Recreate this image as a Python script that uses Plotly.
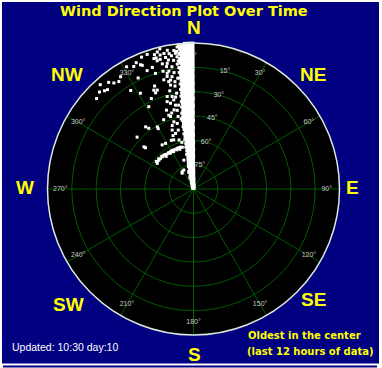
import plotly.graph_objects as go

# ---------------- data ----------------
# Dense band of readings just west of north (hours since oldest reading = radius, direction in degrees)
band_hours = (
    [0.10]*2 + [0.25]*3 + [0.40]*2 + [0.55]*3 + [0.70]*2 + [0.85]*3 + [1.00]*3 + [1.15]*3 +
    [1.30]*2 + [1.45]*4 + [1.60]*2 + [1.75]*3 + [1.90]*3 + [2.05]*3 + [2.20]*3 + [2.35]*3 +
    [2.50]*3 + [2.65]*3 + [2.80]*3 +
    [2.95]*4 + [3.10]*3 + [3.25]*4 + [3.40]*3 + [3.55]*4 + [3.70]*3 + [3.85]*4 + [4.00]*3 +
    [4.15]*4 + [4.30]*3 + [4.45]*4 + [4.60]*3 + [4.75]*4 + [4.90]*3 + [5.05]*4 + [5.20]*3 +
    [5.35]*4 + [5.50]*3 + [5.65]*4 + [5.80]*3 + [5.95]*4 +
    [6.10]*4 + [6.25]*4 + [6.40]*3 + [6.55]*4 + [6.70]*3 + [6.85]*4 + [7.00]*3 + [7.15]*4 +
    [7.30]*3 + [7.45]*4 + [7.60]*3 + [7.75]*4 + [7.90]*3 + [8.05]*4 + [8.20]*4 + [8.35]*4 +
    [8.50]*3 + [8.65]*4 + [8.80]*3 + [8.95]*4 + [9.10]*3 + [9.25]*4 + [9.40]*3 + [9.55]*4 +
    [9.70]*3 + [9.85]*4 + [10.00]*4 + [10.15]*4 + [10.30]*3 + [10.45]*4 + [10.60]*4 + [10.75]*4 +
    [10.90]*3 + [11.05]*4 + [11.20]*4 + [11.35]*4 + [11.50]*3 + [11.65]*4 + [11.80]*4 + [11.95]*3
)
band_dir = [
    358.5, 350.0,  359.3, 354.0, 345.0,  357.0, 349.5,  359.0, 353.5, 346.5,  357.5, 351.0,
    359.4, 355.0, 348.0,  357.0, 352.0, 345.5,  359.0, 354.5, 349.0,
    357.5, 352.5,  359.3, 355.5, 350.0, 346.0,  357.0, 352.5,  359.0, 355.0, 350.5,
    357.5, 353.0, 348.5,  359.3, 355.5, 351.5,  357.0, 353.5, 350.0,  359.0, 355.5, 352.0,
    357.5, 354.0, 350.5,  359.4, 356.0, 352.5,  357.5, 354.5, 351.5,
    359.2, 356.8, 354.3, 351.8,  358.0, 355.5, 353.0,  359.5, 357.0, 354.5, 352.0,
    358.2, 355.8, 353.2,  359.3, 356.9, 354.4, 351.9,  358.0, 355.5, 353.0,
    359.5, 357.2, 354.8, 352.3,  358.3, 355.9, 353.4,  359.2, 356.8, 354.4, 352.0,
    358.0, 355.6, 353.2,  359.5, 357.1, 354.7, 352.2,  358.2, 355.8, 353.4,
    359.3, 357.0, 354.6, 352.2,  358.1, 355.7, 353.3,  359.5, 357.2, 354.8, 352.4,
    358.3, 356.0, 353.6,  359.2, 356.9, 354.6, 352.3,  358.0, 355.7, 353.4,
    359.5, 357.3, 355.0, 352.7,  358.2, 356.0, 353.8,  359.3, 357.1, 354.9, 352.6,
    358.4, 356.3, 354.2, 352.5,  359.5, 357.4, 355.3, 353.2,  358.5, 356.4, 354.3,
    359.4, 357.3, 355.2, 353.1,  358.4, 356.3, 354.2,  359.6, 357.5, 355.4, 353.3,
    358.5, 356.4, 354.3,  359.4, 357.4, 355.4, 353.4,  358.4, 356.4, 354.4,
    359.6, 357.6, 355.6, 353.6,  358.6, 356.6, 354.6,  359.4, 357.4, 355.4, 353.5,
    358.4, 356.5, 354.5,  359.6, 357.8, 356.0, 354.2,  358.7, 356.9, 355.1, 353.6,
    359.5, 357.7, 355.9, 354.1,  358.6, 356.8, 355.0,  359.6, 357.8, 356.0, 354.2,
    358.7, 356.9, 355.1,  359.5, 357.7, 355.9, 354.1,  358.6, 356.8, 355.0,
    359.6, 357.8, 356.0, 354.2,  358.7, 356.9, 355.1,  359.5, 357.7, 355.9, 354.1,
    358.6, 356.8, 355.0,  359.6, 357.8, 356.0, 354.3,  358.8, 357.2, 355.6, 354.0,
    359.6, 358.0, 356.4, 354.8,  358.8, 357.2, 355.6,  359.6, 358.0, 356.4, 354.8,
    358.8, 357.2, 355.6, 354.0,  359.6, 358.0, 356.4, 354.8,  358.8, 357.2, 355.6,
    359.6, 358.1, 356.6, 355.1,  358.9, 357.4, 355.9, 354.4,  359.6, 358.1, 356.6, 355.1,
    358.9, 357.4, 355.9,  359.6, 358.1, 356.6, 355.1,  358.9, 357.4, 355.9, 354.4,
    359.6, 358.1, 356.6,
]

# Ragged western edge of the band
edge_hours = [
    11.90, 11.75, 11.55, 11.40, 11.15, 10.95, 10.80, 10.60, 10.40, 10.05, 9.90, 9.65,
    9.45, 9.20, 9.00, 8.70, 8.45, 8.25, 7.95, 7.70, 7.50, 7.25, 7.05, 6.80,
    6.50, 6.30, 6.00, 5.70, 5.45, 5.20, 4.95, 4.60, 4.35, 4.10, 3.80, 3.50, 3.20, 2.90,
]
edge_dir = [
    354.0, 353.4, 354.2, 353.0, 353.8, 352.9, 354.0, 353.2, 353.9, 353.1, 353.8, 353.0,
    353.6, 352.9, 353.5, 352.8, 353.4, 352.6, 353.0, 352.3, 352.9, 352.1, 352.6, 351.8,
    352.2, 351.2, 351.5, 350.8, 351.3, 350.5, 350.9, 350.2, 350.8, 349.9, 350.4, 349.6, 350.0, 348.8,
]

# Scattered readings away from the main band
scatter_hours = [
    11.70, 11.20, 10.95, 11.60, 11.30, 11.10, 11.50, 11.25, 10.35, 10.70, 10.30, 9.90,
    11.40, 11.20, 11.45, 11.10, 10.90, 10.75, 11.50, 10.80, 11.10, 10.90, 9.05, 8.66,
    9.00, 10.45, 9.50, 9.05, 8.75, 7.90, 7.50, 6.85, 6.40, 9.20, 11.20, 11.40,
    11.05, 10.55, 11.00, 10.55, 9.75, 9.15, 8.75, 8.50, 7.80, 7.50, 7.05, 6.60,
    6.20, 6.25, 5.90, 6.20, 6.45, 6.30, 5.35, 5.15, 4.80, 4.45, 4.40, 4.35,
    3.65, 3.72, 3.70, 3.70, 3.68, 3.70, 3.65, 3.60, 3.62, 3.60, 3.62, 3.60,
    3.58, 3.60, 3.60, 3.60, 3.55,
    3.80, 3.78, 3.75, 3.50, 3.50, 3.48, 3.50, 3.45,
    1.75, 1.60, 5.20, 5.75, 4.40, 5.55, 5.75, 2.50, 1.70, 11.00, 11.20, 10.90,
    11.85, 11.65, 11.50, 11.35, 11.00, 10.80, 10.60, 10.20, 10.00, 9.70, 9.40, 9.30,
    8.95, 8.60, 8.30, 8.00, 7.70, 7.30, 7.00, 6.70, 6.50, 6.10, 5.85, 5.50,
    5.00, 4.70, 4.20, 3.95, 11.65, 10.20, 9.60, 8.20, 7.70, 10.00,
]
scatter_dir = [
    341.0, 344.1, 344.2, 349.3, 349.8, 350.6, 351.9, 352.4, 352.6, 351.2, 347.6, 348.2,
    335.6, 334.0, 331.3, 336.9, 323.1, 325.2, 318.2, 319.1, 315.9, 313.0, 339.3, 339.9,
    331.0, 338.6, 346.8, 347.0, 347.5, 344.1, 347.5, 341.1, 341.5, 351.9, 343.1, 347.7,
    348.0, 348.2, 337.5, 341.3, 347.2, 348.1, 338.1, 338.5, 347.0, 343.2, 347.9, 348.3,
    336.7, 342.4, 329.8, 323.6, 322.4, 312.6, 310.4, 340.1, 342.1, 324.6, 328.5, 338.1,
    305.3, 307.5, 310.0, 312.9, 315.8, 318.9, 321.0, 323.1, 325.8, 328.3, 330.8, 333.2,
    335.8, 338.2, 340.5, 342.7, 345.0,
    306.5, 311.0, 316.0, 320.0, 327.0, 332.0, 337.0, 341.0,
    333.0, 324.3, 310.7, 329.7, 335.5, 346.1, 343.7, 341.5, 326.8, 327.0, 321.5, 317.8,
    346.5, 345.2, 343.8, 346.0, 345.6, 349.0, 346.0, 350.0, 345.5, 350.5, 349.2, 344.8,
    350.2, 349.8, 346.4, 350.0, 349.0, 345.0, 350.0, 346.2, 344.0, 348.0, 350.0, 341.5,
    345.5, 339.0, 343.5, 346.0, 338.5, 333.5, 327.5, 335.0, 331.5, 341.8,
]

# Axis labels
angle_ticks = [0, 30, 60, 90, 120, 150, 180, 210, 240, 270, 300, 330]
angle_labels = ["0°", "30°", "60°", "90°", "120°", "150°", "180°", "210°", "240°", "270°", "300°", "330°"]
ring_hours = [2, 4, 6, 8, 10]
ring_labels = ["75°", "60°", "45°", "30°", "15°"]
compass_labels = ["N", "NE", "E", "SE", "S", "SW", "W", "NW"]

assert len(band_hours) == len(band_dir)
assert len(edge_hours) == len(edge_dir)
assert len(scatter_hours) == len(scatter_dir)

# ---------------- figure ----------------
W, H = 382, 368
CX, CY, R = 193.5, 189.0, 146.0   # pixel centre / radius of the dial

def px(x):
    return x / W

def py(y):
    return 1 - y / H

GRID = "#005a00"
LABEL_GREY = "#c8c8c8"
YELLOW = "#ffff00"
NAVY = "#000080"

fig = go.Figure()

fig.add_trace(go.Scatterpolar(
    r=ring_hours, theta=[15] * len(ring_hours), mode="text", text=ring_labels,
    textfont=dict(family="Liberation Sans, Arial", size=7, color=LABEL_GREY),
    hoverinfo="skip", cliponaxis=False))
fig.add_trace(go.Scatterpolar(
    r=[10.95] * len(angle_ticks), theta=angle_ticks, mode="text", text=angle_labels,
    textfont=dict(family="Liberation Sans, Arial", size=7, color=LABEL_GREY),
    hoverinfo="skip", cliponaxis=False))
fig.add_trace(go.Scatterpolar(
    r=band_hours, theta=band_dir, mode="markers",
    marker=dict(symbol="square", size=4, color="white", line=dict(width=0)),
    hoverinfo="skip"))
fig.add_trace(go.Scatterpolar(
    r=edge_hours, theta=edge_dir, mode="markers",
    marker=dict(symbol="square", size=3, color="white", line=dict(width=0)),
    hoverinfo="skip"))
fig.add_trace(go.Scatterpolar(
    r=scatter_hours, theta=scatter_dir, mode="markers",
    marker=dict(symbol="square", size=3, color="white", line=dict(width=0)),
    hoverinfo="skip"))

compass_pos = {
    "N": (193.5, 27.5), "NE": (313, 74.5), "E": (352, 187.5), "SE": (313, 299.5),
    "S": (194, 354.5), "SW": (68, 304.5), "W": (24.5, 187.5), "NW": (67, 74),
}
annotations = []
for lab in compass_labels:
    x, y = compass_pos[lab]
    annotations.append(dict(
        text=lab, x=px(x), y=py(y), xref="paper", yref="paper",
        xanchor="center", yanchor="middle", showarrow=False, borderpad=0,
        font=dict(family="Liberation Sans, Arial", size=19, color=YELLOW, weight="bold")))

annotations += [
    dict(text="Wind Direction Plot Over Time", x=px(184), y=py(11), xref="paper", yref="paper",
         xanchor="center", yanchor="middle", showarrow=False, borderpad=0,
         font=dict(family="DejaVu Sans", size=14.5, color=YELLOW, weight="bold")),
    dict(text="Updated: 10:30 day:10", x=px(9.5), y=py(347), xref="paper", yref="paper",
         xanchor="left", yanchor="middle", showarrow=False,
         font=dict(family="Liberation Sans, Arial", size=10.5, color="white")),
    dict(text="Oldest in the center", x=px(246), y=py(335), xref="paper", yref="paper",
         xanchor="left", yanchor="middle", showarrow=False,
         font=dict(family="DejaVu Sans", size=10, color=YELLOW, weight="bold")),
    dict(text="(last 12 hours of data)", x=px(245), y=py(351.5), xref="paper", yref="paper",
         xanchor="left", yanchor="middle", showarrow=False,
         font=dict(family="DejaVu Sans", size=10, color=YELLOW, weight="bold")),
]

shapes = [
    dict(type="rect", xref="paper", yref="paper", x0=px(2), x1=px(379), y0=py(363.5), y1=py(2),
         fillcolor=NAVY, line=dict(width=0), layer="below"),
    dict(type="rect", xref="paper", yref="paper", x0=px(3), x1=px(377), y0=py(367.5), y1=py(365.5),
         fillcolor=NAVY, line=dict(width=0), layer="below"),
]

fig.update_layout(
    width=W, height=H, margin=dict(l=0, r=0, t=0, b=0),
    paper_bgcolor="white", showlegend=False,
    shapes=shapes, annotations=annotations,
    polar=dict(
        domain=dict(x=[px(CX - R), px(CX + R)], y=[py(CY + R), py(CY - R)]),
        bgcolor="black",
        angularaxis=dict(direction="clockwise", rotation=90, tickmode="linear", tick0=0, dtick=30,
                         showticklabels=False, ticks="", gridcolor=GRID, gridwidth=1,
                         showline=True, linecolor="#dde8dd", linewidth=1.5),
        radialaxis=dict(range=[0, 12], tickvals=ring_hours, showticklabels=False, ticks="",
                        gridcolor=GRID, gridwidth=1, showline=False),
    ),
)

fig.write_html("out.html")
